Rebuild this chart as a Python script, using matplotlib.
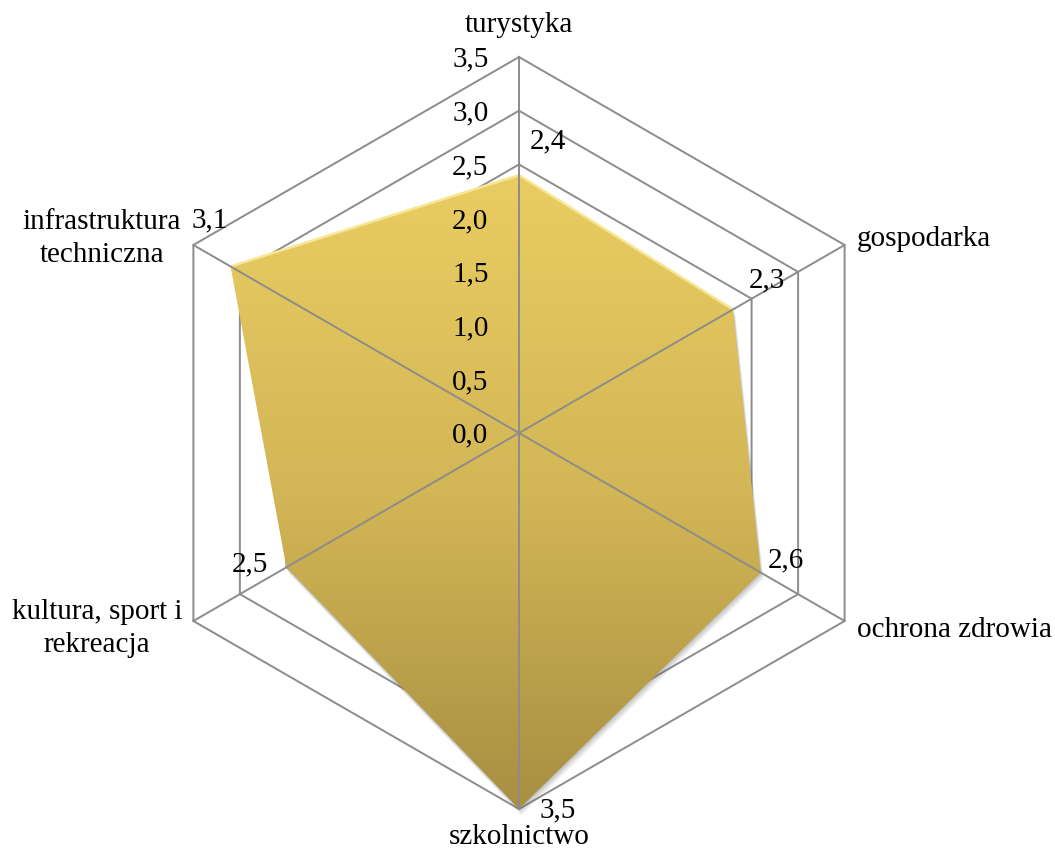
#!/usr/bin/env python3

import numpy as np
import matplotlib.pyplot as plt
from matplotlib.patches import Polygon
from matplotlib.colors import LinearSegmentedColormap

# data
categories = ["turystyka", "gospodarka", "ochrona zdrowia", "szkolnictwo",
              "kultura, sport i\nrekreacja", "infrastruktura\ntechniczna"]
values = [2.4, 2.3, 2.6, 3.5, 2.5, 3.1]
ticks = [0.0, 0.5, 1.0, 1.5, 2.0, 2.5, 3.0, 3.5]
tick_labels = ["0,0", "0,5", "1,0", "1,5", "2,0", "2,5", "3,0", "3,5"]
value_labels = ["2,4", "2,3", "2,6", "3,5", "2,5", "3,1"]

# style / layout
rmax = 3.5
grid_col = "#8c8c8c"
font = "Liberation Serif"
fs = 21
# value label offsets in points (dx, dy) and alignment
val_off = [(8, 24), (11, 21), (5, 9), (15, -1), (-13, 2), (-2, 33)]
val_ha = ["left", "left", "left", "left", "right", "right"]

plt.rcParams["font.family"] = [font, "DejaVu Sans"]

fig = plt.figure(figsize=(10.55, 8.5), dpi=100)
ax = fig.add_axes([0, 0, 1, 1])
scale = 376 / rmax  # px per unit
ax.set_xlim(-519 / scale, (1055 - 519) / scale)
ax.set_ylim(-(850 - 433) / scale, 433 / scale)
ax.set_aspect("equal")
ax.axis("off")

n = len(categories)
theta = np.deg2rad(90 - 60 * np.arange(n))
cx, cy = np.cos(theta), np.sin(theta)

# rings (behind the fill)
for t in ticks[1:]:
    ax.plot(np.append(cx, cx[0]) * t, np.append(cy, cy[0]) * t,
            color=grid_col, lw=1.4, zorder=1)

# soft shadow
v = np.array(values)
px, py = cx * v, cy * v
for k, a in [(0.06, 0.08), (0.045, 0.10), (0.03, 0.12), (0.015, 0.15)]:
    sh = Polygon(np.column_stack([px + k * 0.4, py - k]), closed=True,
                 facecolor="#6a6a6a", edgecolor="none", alpha=a, zorder=2)
    ax.add_patch(sh)

# gradient fill
poly = Polygon(np.column_stack([px, py]), closed=True, facecolor="none",
               edgecolor="none", zorder=4)
ax.add_patch(poly)
cmap = LinearSegmentedColormap.from_list("gold", ["#a88f42", "#d3b656", "#e9cd62"])
grad = np.linspace(0, 1, 256).reshape(-1, 1)
img = ax.imshow(grad, cmap=cmap, origin="lower", aspect="auto",
                extent=[px.min(), px.max(), py.min(), py.max()], zorder=3)
img.set_clip_path(poly)

# bevel highlight on the upper edges
top = [5, 0, 1]
ax.plot(px[top], py[top], color="#f7e795", lw=1.8, zorder=4,
        solid_joinstyle="round")

# spokes (on top of fill)
for x, y in zip(cx, cy):
    ax.plot([0, x * rmax], [0, y * rmax], color=grid_col, lw=1.4, zorder=5)

# radial tick labels
for t, lab in zip(ticks, tick_labels):
    ax.annotate(lab, (0, t), xytext=(-22, -2), textcoords="offset points",
                ha="right", va="center", fontsize=fs, zorder=6)

# value labels
for i in range(n):
    ax.annotate(value_labels[i], (px[i], py[i]), xytext=val_off[i],
                textcoords="offset points", ha=val_ha[i], va="center",
                fontsize=fs, zorder=6)

# category labels
ax.text(0, 3.80, categories[0], ha="center", va="center", fontsize=fs)
ax.annotate(categories[1], (cx[1] * rmax, cy[1] * rmax), xytext=(9, 4),
            textcoords="offset points", ha="left", va="center", fontsize=fs)
ax.annotate(categories[2], (cx[2] * rmax, cy[2] * rmax), xytext=(9, -6.5),
            textcoords="offset points", ha="left", va="center", fontsize=fs)
ax.text(0, -3.76, categories[3], ha="center", va="center", fontsize=fs)
ax.annotate(categories[4], (cx[4] * rmax, cy[4] * rmax), xytext=(-8, -5.4),
            textcoords="offset points", ha="right", va="center",
            multialignment="center", fontsize=fs, linespacing=1.38)
ax.annotate(categories[5], (cx[5] * rmax, cy[5] * rmax), xytext=(-9, 4.7),
            textcoords="offset points", ha="right", va="center",
            multialignment="center", fontsize=fs, linespacing=1.38)

fig.savefig("out.png", dpi=100)
